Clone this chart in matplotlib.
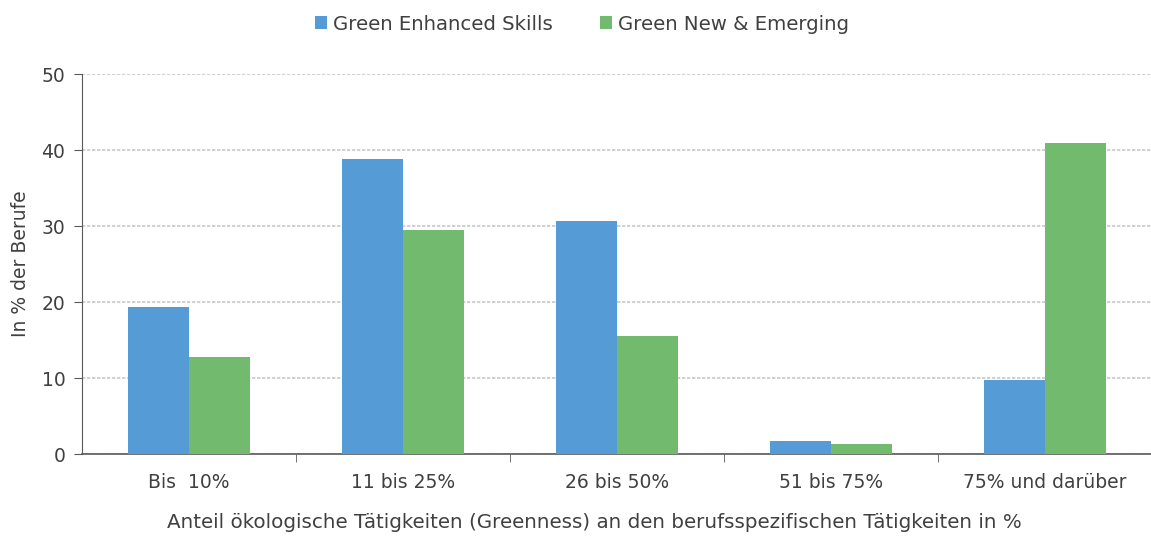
import matplotlib
matplotlib.use("Agg")
import matplotlib.pyplot as plt
import numpy as np

categories = ["Bis  10%", "11 bis 25%", "26 bis 50%", "51 bis 75%", "75% und darüber"]
enhanced = [19.3, 38.8, 30.7, 1.7, 9.7]
new_emerging = [12.8, 29.5, 15.5, 1.3, 40.9]
series_names = ["Green Enhanced Skills", "Green New & Emerging"]
colors = ["#559BD6", "#72BB6E"]

plt.rcParams['font.family'] = ['DejaVu Sans']
fs = 13.5
tc = "#404040"

fig = plt.figure(figsize=(11.51, 5.38), dpi=100)
ax = fig.add_axes([82/1151, 1-454/538, 1070/1151, (454-74)/538])

x = np.arange(len(categories))
w = 0.285
ax.bar(x - w/2, enhanced, w, color=colors[0], label=series_names[0], zorder=3)
ax.bar(x + w/2, new_emerging, w, color=colors[1], label=series_names[1], zorder=3)

ax.set_xlim(-0.5, len(categories) - 0.5)
ax.set_ylim(0, 50.05)
ax.set_yticks([0, 10, 20, 30, 40, 50])
ax.yaxis.grid(True, color="#c8c8c8", linestyle=(0, (2, 1)), linewidth=1.2, zorder=0)
ax.set_axisbelow(True)

ax.set_xticks(x)
ax.set_xticklabels(categories, fontsize=fs, color=tc)
ax.tick_params(axis='x', length=0, pad=14)
ax.set_xticks(np.arange(0.5, len(categories) - 1, 1), minor=True)
ax.tick_params(axis='x', which='minor', length=6, direction='out', color="#595959")
ax.tick_params(axis='y', labelsize=fs, labelcolor=tc, length=6, color="#595959", pad=6)

for s in ["top", "right"]:
    ax.spines[s].set_visible(False)
ax.spines["left"].set_color("#595959")
ax.spines["bottom"].set_color("#595959")
ax.spines["bottom"].set_linewidth(1.2)

ax.set_ylabel("In % der Berufe", fontsize=fs, color=tc, labelpad=8)
ax.set_xlabel("Anteil ökologische Tätigkeiten (Greenness) an den berufsspezifischen Tätigkeiten in %",
              fontsize=14.3, color=tc, labelpad=15)
ax.xaxis.set_label_coords(0.479, -0.155)

leg = fig.legend(loc="center", bbox_to_anchor=(582/1151, 1-24/538), ncol=2, frameon=False,
                 fontsize=14.2, handlelength=0.6, handleheight=0.6, handletextpad=0.3,
                 columnspacing=2.4)
for t in leg.get_texts():
    t.set_color(tc)

fig.savefig("out.png", dpi=100)
